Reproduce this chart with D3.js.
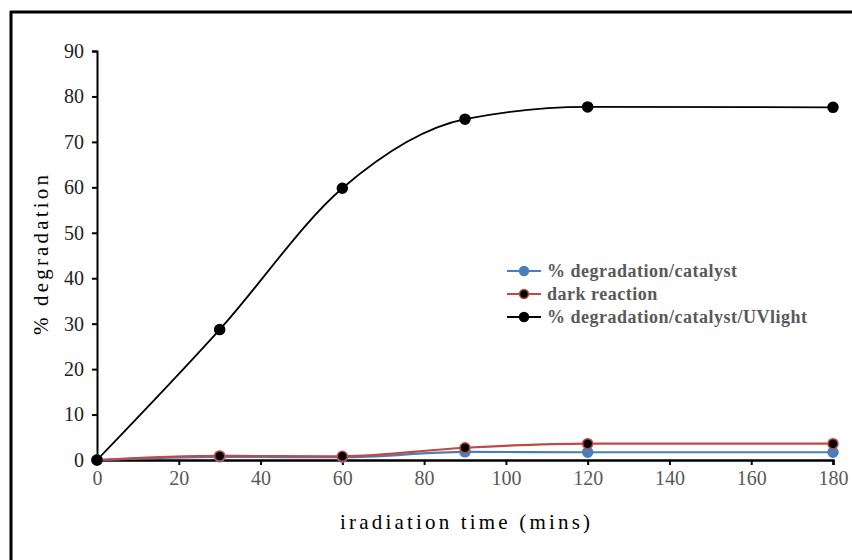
<!DOCTYPE html>
<html>
<head>
<meta charset="utf-8">
<script src="https://cdn.jsdelivr.net/npm/d3@7"></script>
<style>
  body { margin: 0; background: #fff; }
  svg { display: block; }
</style>
</head>
<body>
<svg id="chart"></svg>
<script>
const times = [0, 30, 60, 90, 120, 180];
const catalyst = [0, 0.7, 0.6, 1.8, 1.7, 1.7];
const dark = [0, 0.9, 0.8, 2.7, 3.6, 3.6];
const uvLight = [0, 28.7, 59.8, 75.0, 77.7, 77.6];
const xTicks = [0, 20, 40, 60, 80, 100, 120, 140, 160, 180];
const yTicks = [0, 10, 20, 30, 40, 50, 60, 70, 80, 90];

const series = [
    { name: "% degradation/catalyst", values: catalyst, line: "#4a7ebb", fill: "#4a7ebb", stroke: "#4a7ebb" },
    { name: "dark reaction", values: dark, line: "#be4b48", fill: "#000", stroke: "#be4b48" },
    { name: "% degradation/catalyst/UVlight", values: uvLight, line: "#000", fill: "#000", stroke: "#000" }
];

const serif = "Liberation Serif";
const W = 852, H = 560;
const svg = d3.select("#chart").attr("width", W).attr("height", H);

// frame
svg.append("line").attr("x1", 11).attr("x2", 11).attr("y1", 11).attr("y2", H)
    .attr("stroke", "#000").attr("stroke-width", 3);
svg.append("line").attr("x1", 10).attr("x2", W).attr("y1", 12).attr("y2", 12)
    .attr("stroke", "#000").attr("stroke-width", 3);

const x = d3.scaleLinear().domain([0, 180]).range([97, 833]);
const y = d3.scaleLinear().domain([0, 90]).range([460, 51]);

const yAxis = svg.append("g")
    .attr("transform", "translate(97,0)")
    .call(d3.axisLeft(y).tickValues(yTicks).tickSize(5).tickPadding(8));
yAxis.attr("font-family", null).attr("font-size", null);
yAxis.select(".domain").attr("stroke-width", 2);
yAxis.selectAll(".tick line").attr("stroke-width", 2);
yAxis.selectAll("text").attr("fill", "#222")
    .style("font-family", serif).style("font-size", "20px");

const xAxis = svg.append("g")
    .attr("transform", "translate(0,460)")
    .call(d3.axisBottom(x).tickValues(xTicks).tickSize(5).tickPadding(6).tickSizeOuter(5));
xAxis.attr("font-family", null).attr("font-size", null);
xAxis.select(".domain").attr("stroke-width", 2.5);
xAxis.selectAll(".tick line").attr("stroke-width", 2);
xAxis.selectAll("text").attr("fill", "#595959")
    .style("font-family", serif).style("font-size", "20px");

// axis titles
svg.append("text")
    .attr("transform", "translate(48,255) rotate(-90)")
    .attr("text-anchor", "middle")
    .style("font-family", serif)
    .style("font-size", "21px")
    .attr("textLength", 160)
    .attr("lengthAdjust", "spacing")
    .text("% degradation");
svg.append("text")
    .attr("x", 465).attr("y", 529)
    .attr("text-anchor", "middle")
    .style("font-family", serif)
    .style("font-size", "21px")
    .attr("textLength", 250)
    .attr("lengthAdjust", "spacing")
    .text("iradiation time (mins)");

const line = d3.line()
    .x((d, i) => x(times[i]))
    .y(d => y(d))
    .curve(d3.curveMonotoneX);

series.forEach(s => {
    svg.append("path")
        .datum(s.values)
        .attr("d", line)
        .attr("fill", "none")
        .attr("stroke", s.line)
        .attr("stroke-width", s.line === "#000" ? 1.8 : 2.2);
});

series.forEach(s => {
    svg.selectAll(null)
        .data(s.values)
        .enter().append("circle")
        .attr("cx", (d, i) => x(times[i]))
        .attr("cy", d => y(d))
        .attr("r", 5)
        .attr("fill", s.fill)
        .attr("stroke", s.stroke)
        .attr("stroke-width", 1.5);
});

// legend
const legend = svg.append("g").attr("transform", "translate(507,271)");
series.forEach((s, i) => {
    const row = legend.append("g").attr("transform", `translate(0,${i * 23})`);
    row.append("line").attr("x1", 0).attr("x2", 34).attr("y1", 0).attr("y2", 0)
        .attr("stroke", s.line).attr("stroke-width", 2);
    row.append("circle").attr("cx", 17).attr("cy", 0).attr("r", 4.5)
        .attr("fill", s.fill).attr("stroke", s.stroke).attr("stroke-width", 1.5);
    row.append("text").attr("x", 40).attr("y", 6)
        .style("font-family", serif)
        .style("font-size", "18px")
        .style("font-weight", "bold")
        .style("letter-spacing", "0.5px")
        .attr("fill", "#595959")
        .text(s.name);
});
</script>
</body>
</html>
